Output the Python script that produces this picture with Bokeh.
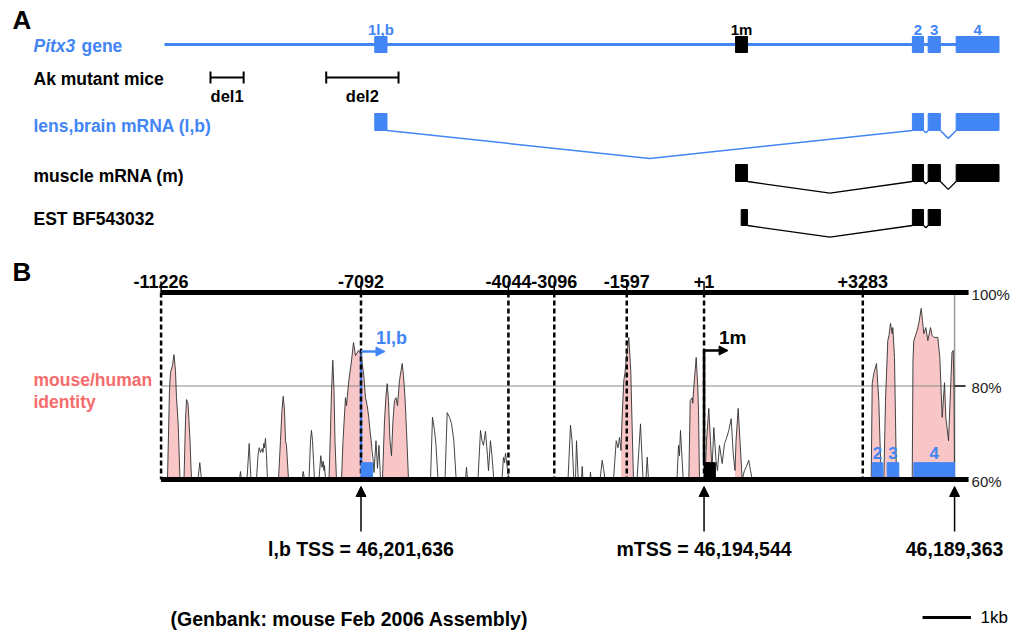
import numpy as np
from bokeh.plotting import figure
from bokeh.models import Range1d, Label, Arrow, NormalHead
from bokeh.core.properties import value
from bokeh.embed import file_html
from bokeh.resources import INLINE

# ---------------- data (bp relative to the muscle TSS, +1) ----------------
exon_names = ["1l,b", "1m", "2", "3", "4"]
exon_start = [-7092, 1, 3478, 3788, 4338]
exon_end = [-6852, 235, 3697, 4028, 5181]
gene_region = [-11226, 5181]

lens_exons = [0, 2, 3, 4]
muscle_exons = [1, 2, 3, 4]
est_start = [112, 3478, 3788]
est_end = [235, 3697, 4028]

del_names = ["del1", "del2"]
del_start = [-10322, -8047]
del_end = [-9670, -6625]

tick_bp = [-11226, -7092, -4044, -3096, -1597, 1, 3283]
tick_labels = ["-11226", "-7092", "-4044", "-3096", "-1597", "+1", "+3283"]

pct_ticks = [100, 80, 60]
pct_labels = ["100%", "80%", "60%"]

tss_bp = [-7092, 1, 5181]
tss_labels = ["l,b TSS = 46,201,636", "mTSS = 46,194,544", "46,189,363"]

# mouse/human identity profile (values below 60% are shown at 60%)
ident_bp = [
    -11093, -11052, -11031, -10990, -10959, -10928, -10907, -10876, -10866, -10835,
    -10752, -10721, -10700, -10669, -10649, -10628, -10597,
    -10463, -10425, -10390,
    -9604, -9584, -9563,
    -9449, -9404, -9367,
    -9253, -9222, -9197, -9170, -9135, -9119, -9102, -9088, -9067, -9046, -9026,
    -8798, -8757, -8726, -8701, -8674, -8653, -8633, -8591,
    -8312, -8287, -8260,
    -8167, -8136, -8116, -8095, -8074, -8054,
    -7961, -7923, -7899, -7874, -7857, -7847, -7826,
    -7754, -7723, -7702, -7675, -7650, -7630, -7599,
    -7495, -7464, -7413, -7392, -7344, -7295, -7247, -7206, -7144, -7103, -7067, -7034,
    -6999, -6964, -6931, -6906, -6881, -6865, -6844, -6823, -6782, -6751, -6720, -6689,
    -6648, -6606, -6575, -6550, -6524, -6493, -6462, -6431, -6400, -6369, -6338, -6296,
    -6240, -6213, -6182, -6151, -6110,
    -5655, -5614, -5572, -5541, -5500,
    -5355, -5310, -5262, -5221, -5173, -5124,
    -4931, -4911, -4890,
    -4673, -4621, -4590, -4559, -4518, -4477, -4456, -4415, -4384, -4346,
    -4177, -4146, -4125, -4104, -4073, -4036,
    -2812, -2760, -2729, -2692, -2657, -2636, -2601,
    -2533, -2518, -2502,
    -2357, -2347, -2336,
    -2150, -2105, -2078, -2047,
    -1871, -1815, -1778, -1747, -1716, -1696, -1658, -1633, -1602, -1555, -1514, -1489, -1458,
    -1385, -1313, -1261, -1199, -1174, -1148,
    -558, -527, -507, -486, -430,
    -314, -285, -244, -232, -211, -161, -128, -114, -93,
    21, 52, 99, 134, 165, 203, 248, 279, 320, 376, 424, 465, 513, 562, 604, 641, 662,
    707, 744, 790, 837, 879, 926, 962, 997,
    3457, 3478, 3511, 3567, 3614, 3639, 3664,
    3718, 3753, 3800, 3825, 3856, 3891, 3904, 3939, 3960, 3980,
    4305, 4321, 4338, 4373, 4408, 4441, 4491, 4518, 4545, 4586, 4628, 4683, 4718, 4756,
    4834, 4876, 4925, 4973, 5000, 5056, 5097, 5128, 5153, 5170, 5181,
]
ident_pct = [
    60, 79.0, 82.9, 84.4, 86.7, 83.3, 77.5, 72.6, 70.1, 60,
    60, 72.6, 77.1, 76.3, 72.6, 68.3, 60,
    60, 63.6, 60,
    60, 61.7, 60,
    60, 67.7, 60,
    60, 65.1, 66.8, 65.8, 66.6, 65.8, 67.7, 66.8, 68.8, 65.1, 60,
    60, 68.3, 74.8, 77.8, 74.8, 68.3, 67.3, 60,
    60, 61.7, 60,
    60, 68.3, 70.5, 68.3, 64.1, 60,
    60, 65.1, 62.6, 63.9, 61.9, 63.0, 60,
    60, 70.5, 79.0, 85.5, 79.0, 68.3, 60,
    60, 68.3, 77.5, 75.8, 81.2, 84.8, 89.3, 86.5, 87.6, 87.0, 84.8, 82.2,
    77.5, 75.8, 73.3, 70.5, 68.3, 66.2, 64.5, 61.5, 68.3, 62.4, 67.3, 60,
    60, 72.6, 78.0, 80.5, 76.9, 68.3, 65.1, 72.6, 76.9, 77.5, 75.8, 81.2,
    84.8, 82.2, 77.5, 70.5, 60,
    60, 73.3, 70.5, 67.3, 60,
    60, 74.3, 73.3, 72.0, 68.3, 60,
    60, 62.6, 60,
    60, 70.5, 68.3, 67.3, 70.3, 65.1, 61.9, 68.3, 65.1, 60,
    60, 64.7, 63.6, 65.6, 63.0, 60,
    60, 71.6, 68.3, 60, 60, 68.3, 60,
    60, 62.8, 60,
    60, 61.6, 60,
    60, 64.1, 62.4, 60,
    60, 68.3, 66.8, 69.0, 66.2, 72.6, 81.2, 82.9, 86.5, 90.4, 83.3, 72.6, 60,
    60, 71.9, 60, 60, 64.8, 60,
    60, 67.3, 65.1, 70.5, 60,
    60, 76.9, 77.5, 76.3, 79.7, 86.1, 79.7, 74.8, 60,
    60, 68.3, 75.2, 68.3, 61.9, 71.1, 64.1, 61.9, 67.3, 63.4, 67.7, 68.8, 70.5, 73.0, 65.6, 61.9, 68.3,
    75.2, 68.3, 60, 61.9, 62.8, 64.1, 61.9, 60,
    60, 80.5, 82.7, 84.8, 76.9, 68.3, 60,
    60, 76.9, 89.7, 90.8, 93.4, 91.2, 92.5, 86.1, 72.6, 60,
    60, 85.5, 89.7, 90.8, 91.9, 93.4, 96.6, 94.0, 91.2, 92.5, 89.7, 92.5, 90.8, 90.4,
    90.4, 86.1, 73.3, 80.7, 73.3, 68.3, 79.0, 87.2, 87.6, 79.0, 60,
]
assert len(ident_bp) == len(ident_pct)

# conserved (shaded) regions
cons_start = [-11093, -10752, -8798, -7754, -7495, -6648, -1716, -314, 21, 641, 3457, 3718, 4305]
cons_end = [-10835, -10597, -8591, -7599, -6881, -6110, -1458, -93, 165, 790, 3664, 3980, 5181]

scale_bar_bp = 1000

# ---------------- styling / layout ----------------
W, H = 1019, 634
BLUE = "#4285f4"
PINK_FILL = "#f8c6c6"
PINK_TEXT = "#f56c6c"
FONT = "Liberation Sans"

B_PX_PER_BP = 0.048364
B_ZERO = 703.5
A_PX_PER_BP = 0.050863
A_ZERO = 735.0
PCT_Y60 = 479.0
PCT_PX = 4.675


def bx(px):
    return px / B_PX_PER_BP


p = figure(width=W, height=H, output_backend="svg", toolbar_location=None,
           x_range=Range1d(-B_ZERO / B_PX_PER_BP, (W - B_ZERO) / B_PX_PER_BP),
           y_range=Range1d(H, 0),
           x_axis_location=None, y_axis_location=None, min_border=0,
           outline_line_color=None)
p.extra_x_ranges = {"A": Range1d(-A_ZERO / A_PX_PER_BP, (W - A_ZERO) / A_PX_PER_BP)}
p.extra_y_ranges = {"pct": Range1d(60 - (H - PCT_Y60) / PCT_PX, 60 + PCT_Y60 / PCT_PX)}
p.xgrid.visible = False
p.ygrid.visible = False
p.background_fill_color = "white"
p.border_fill_color = "white"


def lab(x, y, text, size, color="black", style="bold", align="left", font=FONT):
    p.add_layout(Label(x=x, y=y, x_units="screen", y_units="data", text=text,
                       text_font=font, text_font_size=f"{size}px", text_font_style=style,
                       text_color=color, text_align=align, text_baseline="middle"))


# ================= Panel A =================
lab(12, 19, "A", 26)
lab(33, 45, "Pitx3", 17.5, BLUE, "bold italic")
lab(81, 45, "gene", 17.5, BLUE)
lab(33, 78, "Ak mutant mice", 17.5)
lab(33, 125, "lens,brain mRNA (l,b)", 17.5, BLUE)
lab(33, 175, "muscle mRNA (m)", 17.5)
lab(33, 218, "EST BF543032", 17.5)

exon_colors = [BLUE, "black", BLUE, BLUE, BLUE]
# gene line + exons
p.line(x=gene_region, y=[44, 44], x_range_name="A", line_color=BLUE, line_width=3)
p.quad(left=exon_start, right=exon_end, top=36, bottom=52, x_range_name="A",
       fill_color=exon_colors, line_color=exon_colors)
p.text(x=[(s + e) / 2 for s, e in zip(exon_start, exon_end)], y=[29] * 5, text=exon_names,
       x_range_name="A", text_color=exon_colors, text_font=value(FONT), text_font_size="15px",
       text_font_style="bold", text_align="center", text_baseline="middle")

# deletions
p.segment(x0=del_start, y0=77, x1=del_end, y1=77, x_range_name="A", line_color="black", line_width=2)
p.segment(x0=del_start + del_end, y0=71, x1=del_start + del_end, y1=83, x_range_name="A",
          line_color="black", line_width=2)
p.text(x=[(s + e) / 2 for s, e in zip(del_start, del_end)], y=[95, 95], text=del_names,
       x_range_name="A", text_font=value(FONT), text_font_size="16.5px", text_font_style="bold",
       text_align="center", text_baseline="middle")


def transcript(starts, ends, top, bottom, color, lw):
    p.quad(left=starts, right=ends, top=top, bottom=bottom, x_range_name="A",
           fill_color=color, line_color=color)
    xs, ys = [], []
    for i in range(len(starts) - 1):
        a, b = ends[i], starts[i + 1]
        gap_px = (b - a) * A_PX_PER_BP
        depth = gap_px * 0.5 if gap_px < 30 else min(28, gap_px * 0.07)
        xs.append([a, (a + b) / 2, b])
        ys.append([bottom, bottom + depth, bottom])
    p.multi_line(xs, ys, x_range_name="A", line_color=color, line_width=lw)


transcript([exon_start[i] for i in lens_exons], [exon_end[i] for i in lens_exons], 113, 130, BLUE, 1.5)
transcript([exon_start[i] for i in muscle_exons], [exon_end[i] for i in muscle_exons], 164, 181, "black", 1.3)
transcript(est_start, est_end, 209, 225, "black", 1.3)

# ================= Panel B =================
lab(12, 271, "B", 26)
lab(33, 379, "mouse/human", 17.5, PINK_TEXT)
lab(33, 401, "identity", 17.5, PINK_TEXT)

# conserved shading
for s, e in zip(cons_start, cons_end):
    xs = [s] + [x for x in ident_bp if s < x < e] + [e]
    ys = np.interp(xs, ident_bp, ident_pct)
    p.varea(x=xs, y1=60, y2=ys, y_range_name="pct", fill_color=PINK_FILL)

# 80% reference line and right border
p.segment(x0=gene_region[0], y0=80, x1=gene_region[1], y1=80, y_range_name="pct",
          line_color="#8a8a8a", line_width=1.2)
p.segment(x0=gene_region[1], y0=60, x1=gene_region[1], y1=100, y_range_name="pct",
          line_color="#9a9a9a", line_width=1.5)

# TSS arrows inside the plot (drawn under the dashed lines)
p.segment(x0=exon_start[0], y0=462, x1=exon_start[0], y1=351, line_color=BLUE, line_width=2.5)
p.segment(x0=exon_start[1], y0=462, x1=exon_start[1], y1=350, line_color="black", line_width=2.5)

# dashed position lines
p.segment(x0=tick_bp, y0=100, x1=tick_bp, y1=60, y_range_name="pct",
          line_color="black", line_width=2.5, line_dash="5 3")
p.segment(x0=tick_bp, y0=281, x1=tick_bp, y1=292, line_color="black", line_width=1.5)

# identity profile
p.line(ident_bp, ident_pct, y_range_name="pct", line_color="#303030", line_width=0.9)

# exon boxes along the axis
p.quad(left=exon_start, right=exon_end, bottom=60, top=63.6, y_range_name="pct",
       fill_color=exon_colors, line_color=exon_colors)
p.text(x=[(exon_start[i] + exon_end[i]) / 2 for i in (2, 3, 4)], y=[452] * 3,
       text=[exon_names[i] for i in (2, 3, 4)], text_color=BLUE, text_font=value(FONT),
       text_font_size="17px", text_font_style="bold", text_align="center", text_baseline="middle")

# thick axis lines at 100% and 60%
p.segment(x0=gene_region[0], y0=[pct_ticks[0], pct_ticks[2]], x1=gene_region[1] + bx(14),
          y1=[pct_ticks[0], pct_ticks[2]], y_range_name="pct", line_color="black", line_width=5)
p.segment(x0=gene_region[1], y0=80, x1=gene_region[1] + bx(11), y1=80, y_range_name="pct",
          line_color="black", line_width=1.5)
p.text(x=[gene_region[1] + bx(17)] * 3, y=[p_ - 0.4 for p_ in pct_ticks], text=pct_labels,
       y_range_name="pct", text_font=value(FONT), text_font_size="15px", text_color="#222222",
       text_align="left", text_baseline="middle")

# position labels along the top
p.text(x=tick_bp, y=[281] * len(tick_bp), text=tick_labels, text_font=value(FONT),
       text_font_size="18px", text_font_style="bold", text_align="center", text_baseline="middle")

# TSS arrows heads + labels
p.add_layout(Arrow(x_start=exon_start[0], y_start=351, x_end=exon_start[0] + bx(24), y_end=351,
                   line_color=BLUE, line_width=2.5,
                   end=NormalHead(size=9, fill_color=BLUE, line_color=BLUE)))
p.add_layout(Arrow(x_start=exon_start[1], y_start=350, x_end=exon_start[1] + bx(24), y_end=350,
                   line_color="black", line_width=2.5,
                   end=NormalHead(size=9, fill_color="black", line_color="black")))
p.text(x=[exon_start[0] + bx(15)], y=[337], text=[exon_names[0]], text_color=BLUE,
       text_font=value(FONT), text_font_size="18px", text_font_style="bold",
       text_align="left", text_baseline="middle")
p.text(x=[exon_start[1] + bx(15)], y=[337], text=[exon_names[1]], text_color="black",
       text_font=value(FONT), text_font_size="19px", text_font_style="bold",
       text_align="left", text_baseline="middle")

# genomic coordinate arrows below
for xb in tss_bp:
    p.add_layout(Arrow(x_start=xb, y_start=531, x_end=xb, y_end=486, line_color="black",
                       line_width=1.5, end=NormalHead(size=10, fill_color="black", line_color="black")))
p.text(x=tss_bp, y=[548] * 3, text=tss_labels, text_font=value(FONT), text_font_size="19.5px",
       text_font_style="bold", text_align="center", text_baseline="middle")

lab(170, 618, "(Genbank: mouse Feb 2006 Assembly)", 19.5)

# scale bar
sb0 = gene_region[1] - bx(32)
p.segment(x0=sb0, y0=617, x1=sb0 + scale_bar_bp, y1=617, line_color="black", line_width=3)
lab(980, 617, "1kb", 17, style="normal")

open("out.html", "w").write(file_html(p, INLINE))
